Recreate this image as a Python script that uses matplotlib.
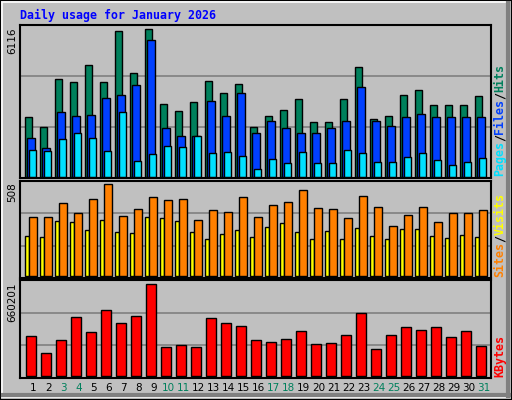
import matplotlib
matplotlib.use("Agg")
import matplotlib.pyplot as plt
from matplotlib.patches import Rectangle

days = list(range(1, 32))
weekend = [3, 4, 10, 11, 17, 18, 24, 25, 31]
hits = [2465, 2050, 4041, 3917, 4622, 3917, 6033, 4290, 6116, 3004, 2714, 3087, 3958, 3460, 3834, 2050,
        2519, 2770, 3220, 2270, 2270, 3220, 4540, 2390, 2520, 3385, 3590, 2970, 2970, 2970, 3340]
files = [1594, 1178, 2672, 2506, 2548, 3253, 3378, 3793, 5660, 2008, 1676, 1676, 3129, 2506, 3460, 1801,
         2310, 2010, 1800, 1800, 2010, 2310, 3710, 2310, 2100, 2460, 2600, 2460, 2460, 2460, 2460]
pages = [1095, 1054, 1552, 1801, 1594, 1054, 2672, 639, 930, 1261, 1220, 1676, 971, 1013, 846, 307,
         730, 560, 1010, 560, 560, 1090, 970, 600, 600, 810, 970, 690, 480, 600, 770]
visits = [325, 325, 403, 347, 425, 508, 331, 369, 436, 419, 425, 308, 364, 353, 436, 325,
          392, 408, 475, 375, 369, 320, 441, 380, 275, 336, 380, 297, 347, 347, 364]
sites = [220, 214, 303, 297, 253, 308, 242, 236, 325, 320, 303, 242, 203, 231, 253, 214,
         270, 292, 242, 203, 247, 203, 264, 220, 203, 259, 259, 220, 209, 225, 214]
kbytes = [284300, 161400, 255400, 421700, 313200, 472300, 378300, 428900, 660201, 204800, 219300,
          204800, 414400, 378300, 356600, 255400, 241000, 262600, 320500, 226500, 233700, 291600,
          450600, 190400, 291600, 349400, 327700, 349400, 277100, 320500, 212000]
max_labels = ["6116", "508", "660201"]

W, H = 512, 400
BG = "#C0C0C0"
fig = plt.figure(figsize=(W / 100, H / 100), dpi=100, facecolor=BG)

def fx(px): return px / W
def fy(py): return 1 - py / H

# bevel border
fig.patches.append(Rectangle((0, 0), 1, 1, transform=fig.transFigure, fill=False, ec="black", lw=1.5))
fig.patches.append(Rectangle((fx(2), fy(397)), fx(508) - fx(2), fy(2) - fy(397), transform=fig.transFigure,
                             fill=False, ec="white", lw=1.2))
fig.lines.append(plt.Line2D([fx(3), fx(509)], [fy(395), fy(395)], transform=fig.transFigure, color="#808080", lw=3))
fig.lines.append(plt.Line2D([fx(508), fx(508)], [fy(3), fy(396)], transform=fig.transFigure, color="#808080", lw=3))

XL, XR = 20, 491
slot = 15.0
xmax = (XR - XL) / slot

def make_ax(top, bot, ymin, ymax):
    ax = fig.add_axes([fx(XL), fy(bot), fx(XR) - fx(XL), fy(top) - fy(bot)])
    ax.set_facecolor(BG)
    ax.set_xlim(0, xmax)
    ax.set_ylim(ymin, ymax)
    ax.set_xticks([]); ax.set_yticks([])
    for s in ax.spines.values():
        s.set_color("black"); s.set_linewidth(1.5)
    for f in (1 / 3, 2 / 3):
        ax.axhline(ymin + (ymax - ymin) * f, color="#808080", lw=1.2, zorder=0)
    return ax

x0 = [d - 1 for d in days]
ax1 = make_ax(25, 178, -54, 6294)
kw = dict(align="edge", edgecolor="black", linewidth=1.0)
ax1.bar([x + 0.353 for x in x0], hits, width=0.467, color="#00805C", **kw)
ax1.bar([x + 0.487 for x in x0], files, width=0.49, color="#0040FF", **kw)
ax1.bar([x + 0.62 for x in x0], pages, width=0.467, color="#00E0FF", **kw)

ax2 = make_ax(180.7, 278, -11, 528)
ax2.bar([x + 0.353 for x in x0], sites, width=0.27, color="#FFFF00", **kw)
ax2.bar([x + 0.62 for x in x0], visits, width=0.49, color="#FF8000", **kw)

ax3 = make_ax(280, 378, -16600, 691200)
ax3.bar([x + 0.42 for x in x0], kbytes, width=0.667, color="#FF0000", **kw)

mono = "DejaVu Sans Mono"
fig.text(fx(20), fy(15), "Daily usage for January 2026", color="#0000FF", family=mono,
         fontweight="bold", fontsize=8.4, ha="left", va="center")

# day labels
for d in days:
    fig.text(fx(XL + (d - 1) * slot + 13.5), fy(388), str(d), ha="center", va="center", fontsize=7.5,
             color="#00805C" if d in weekend else "black")

# left max labels
for lab, ytop in zip(max_labels, [27, 182, 282]):
    fig.text(fx(12), fy(ytop), lab, rotation=90, ha="center", va="top", fontsize=7.5, color="black")

# right rotated legends
def vlegend(ybot, parts):
    y = ybot
    for txt, col in parts:
        fig.text(fx(500), fy(y), txt, rotation=90, ha="center", va="bottom", family=mono,
                 fontweight="bold", fontsize=8.4, color=col)
        y -= 7.0 * len(txt)

vlegend(176, [("Pages", "#00E0FF"), ("/", "black"), ("Files", "#0040FF"), ("/", "black"), ("Hits", "#00805C")])
vlegend(277, [("Sites", "#FF8000"), ("/", "black"), ("Visits", "#FFFF00")])
vlegend(377, [("KBytes", "#FF0000")])

fig.savefig("out.png", dpi=100, facecolor=BG)
